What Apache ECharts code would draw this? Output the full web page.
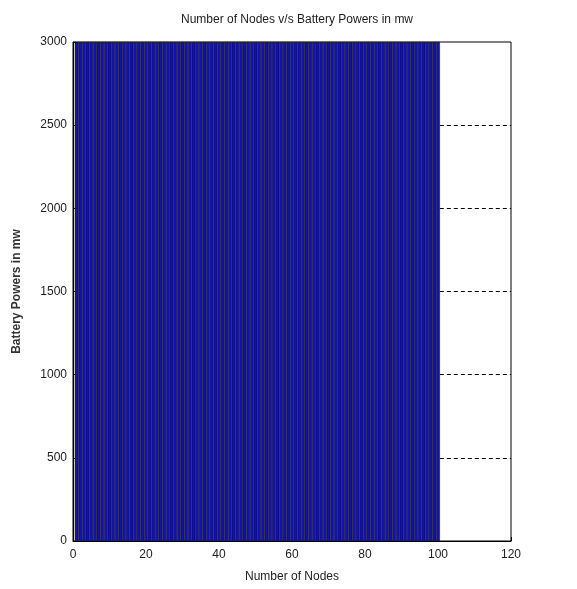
<!DOCTYPE html>
<html>
<head>
<meta charset="utf-8">
<script src="https://cdn.jsdelivr.net/npm/echarts@6/dist/echarts.min.js"></script>
<style>
  html, body { margin: 0; padding: 0; background: #ffffff; }
  #chart { width: 577px; height: 589px; }
</style>
</head>
<body>
<div id="chart"></div>
<script>
// Node index for each bar
const nodes = [
  1, 2, 3, 4, 5, 6, 7, 8, 9, 10,
  11, 12, 13, 14, 15, 16, 17, 18, 19, 20,
  21, 22, 23, 24, 25, 26, 27, 28, 29, 30,
  31, 32, 33, 34, 35, 36, 37, 38, 39, 40,
  41, 42, 43, 44, 45, 46, 47, 48, 49, 50,
  51, 52, 53, 54, 55, 56, 57, 58, 59, 60,
  61, 62, 63, 64, 65, 66, 67, 68, 69, 70,
  71, 72, 73, 74, 75, 76, 77, 78, 79, 80,
  81, 82, 83, 84, 85, 86, 87, 88, 89, 90,
  91, 92, 93, 94, 95, 96, 97, 98, 99, 100
];

// Battery power of each node (mw)
const batteryPower = [
  3000, 3000, 3000, 3000, 3000, 3000, 3000, 3000, 3000, 3000,
  3000, 3000, 3000, 3000, 3000, 3000, 3000, 3000, 3000, 3000,
  3000, 3000, 3000, 3000, 3000, 3000, 3000, 3000, 3000, 3000,
  3000, 3000, 3000, 3000, 3000, 3000, 3000, 3000, 3000, 3000,
  3000, 3000, 3000, 3000, 3000, 3000, 3000, 3000, 3000, 3000,
  3000, 3000, 3000, 3000, 3000, 3000, 3000, 3000, 3000, 3000,
  3000, 3000, 3000, 3000, 3000, 3000, 3000, 3000, 3000, 3000,
  3000, 3000, 3000, 3000, 3000, 3000, 3000, 3000, 3000, 3000,
  3000, 3000, 3000, 3000, 3000, 3000, 3000, 3000, 3000, 3000,
  3000, 3000, 3000, 3000, 3000, 3000, 3000, 3000, 3000, 3000
];

const xTicks = [0, 20, 40, 60, 80, 100, 120];
const yTicks = [0, 500, 1000, 1500, 2000, 2500, 3000];

const xMin = xTicks[0], xMax = xTicks[xTicks.length - 1];
const yMin = yTicks[0], yMax = yTicks[yTicks.length - 1];

// Dashed grid lines at the inner y ticks; the bars hide them up to the
// right edge of the last bar, so they are drawn from there to the frame
const barsEnd = nodes[nodes.length - 1] + 0.5;
const gridLines = yTicks.slice(1, -1).map(v => [
  { coord: [barsEnd, v] }, { coord: [xMax, v] }
]);

const font = 'Liberation Sans, Arial, sans-serif';
const chart = echarts.init(document.getElementById('chart'), null, { renderer: 'canvas' });

chart.setOption({
  animation: false,
  backgroundColor: '#ffffff',
  title: {
    text: 'Number of Nodes v/s Battery Powers in mw',
    left: 292,
    textAlign: 'center',
    top: 9,
    textStyle: { fontFamily: font, fontSize: 12, fontWeight: 'normal', color: '#222' }
  },
  grid: {
    left: 73, right: 66, top: 42, bottom: 48,
    show: true, borderColor: '#000', borderWidth: 1, backgroundColor: '#fff'
  },
  xAxis: {
    type: 'value',
    min: xMin, max: xMax, interval: 20,
    name: 'Number of Nodes',
    nameLocation: 'middle',
    nameGap: 30,
    nameTextStyle: { fontFamily: font, fontSize: 12, color: '#222' },
    axisLine: { show: true, lineStyle: { color: '#000', width: 1 } },
    axisTick: { show: true, inside: true, length: 4, lineStyle: { color: '#000' } },
    axisLabel: { fontFamily: font, fontSize: 12, color: '#222', margin: 8 },
    splitLine: { show: false }
  },
  yAxis: {
    type: 'value',
    min: yMin, max: yMax, interval: 500,
    name: 'Battery Powers in mw',
    nameLocation: 'middle',
    nameGap: 50,
    nameTextStyle: { fontFamily: font, fontSize: 12, fontWeight: 'bold', color: '#333' },
    axisLine: { show: true, lineStyle: { color: '#000', width: 1 } },
    axisTick: { show: true, inside: true, length: 4, lineStyle: { color: '#000' } },
    axisLabel: { fontFamily: font, fontSize: 12, color: '#222', margin: 6, formatter: v => String(v) },
    splitLine: { show: false }
  },
  series: [
    {
      type: 'line',
      z: 1,
      data: [],
      silent: true,
      markLine: {
        z: 1,
        symbol: ['none', 'none'],
        silent: true,
        label: { show: false },
        lineStyle: { color: '#000', type: [4, 3], width: 1 },
        data: gridLines
      }
    },
    {
      type: 'bar',
      z: 10,
      data: nodes.map((n, i) => [n, batteryPower[i]]),
      barWidth: 3.7,
      itemStyle: { color: '#1212b0', opacity: 1, borderColor: '#000', borderWidth: 0.5 }
    }
  ]
});
</script>
</body>
</html>
